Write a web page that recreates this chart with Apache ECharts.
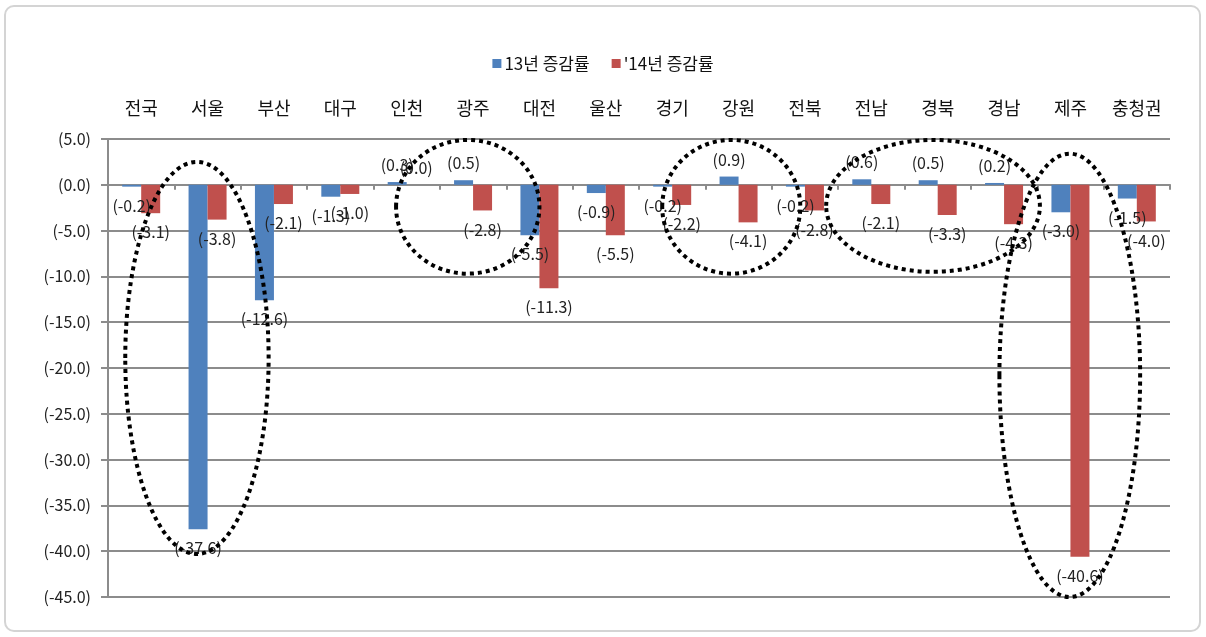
<!DOCTYPE html>
<html>
<head>
<meta charset="utf-8">
<script src="https://cdn.jsdelivr.net/npm/echarts@6/dist/echarts.min.js"></script>
<style>
html,body{margin:0;padding:0;background:#fff;}
#frame{position:absolute;left:4px;top:5px;width:1197px;height:627px;border:2px solid #d4d4d4;border-radius:10px;box-sizing:border-box;}
#chart{position:absolute;left:0;top:0;width:1206px;height:637px;}
</style>
</head>
<body>
<div id="frame"></div>
<div id="chart"></div>
<script>
const categories = ['전국','서울','부산','대구','인천','광주','대전','울산','경기','강원','전북','전남','경북','경남','제주','충청권'];
const seriesNames = ['13년 증감률', "'14년 증감률"];
const values13 = [-0.2, -37.6, -12.6, -1.3, 0.3, 0.5, -5.5, -0.9, -0.2, 0.9, -0.2, 0.6, 0.5, 0.2, -3.0, -1.5];
const values14 = [-3.1, -3.8, -2.1, -1.0, 0.0, -2.8, -11.3, -5.5, -2.2, -4.1, -2.8, -2.1, -3.3, -4.3, -40.6, -4.0];
const yMin = -45, yMax = 5, yInterval = 5;
// annotation ellipses: [center category index, center value, x radius (categories), y radius (value units)]
const ellipses = [
  [0.84, -18.9, 1.08, 21.4],
  [4.92, -2.4, 1.08, 7.3],
  [8.89, -2.4, 1.04, 7.3],
  [11.93, -2.3, 1.61, 7.2],
  [13.99, -20.8, 1.06, 24.2]
];

const FONT = '"Noto Sans CJK KR", "Noto Sans", sans-serif';
const fmt = v => '(' + (Math.abs(v) < 0.05 ? 0 : v).toFixed(1) + ')';

function items(arr) {
  return arr.map(v => ({
    value: v,
    label: { position: v >= 0 ? 'top' : 'bottom', distance: v >= 0 ? 9 : 11 }
  }));
}

const chart = echarts.init(document.getElementById('chart'), null, {renderer: 'canvas'});
const labelStyle = {
  show: true, formatter: p => fmt(p.value), color: '#222', fontSize: 16, fontFamily: FONT
};
chart.setOption({
  animation: false,
  legend: {
    top: 50, left: 'center', itemWidth: 9, itemHeight: 9, itemGap: 22,
    icon: 'rect',
    textStyle: { fontSize: 17, color: '#111', fontFamily: FONT, padding: [0,0,0,-2] },
    data: seriesNames
  },
  grid: { left: 108, right: 36, top: 139, bottom: 40 },
  xAxis: [
    {
      type: 'category', data: categories, position: 'bottom',
      axisLine: { onZero: true, lineStyle: { color: '#8c8c8c', width: 2 } },
      axisTick: { show: true, length: 5, lineStyle: { color: '#8c8c8c', width: 2 } },
      axisLabel: { show: false }
    },
    {
      type: 'category', data: categories, position: 'top',
      axisLine: { show: false }, axisTick: { show: false },
      axisLabel: { show: true, margin: 22, fontSize: 18, color: '#111', fontFamily: FONT }
    }
  ],
  yAxis: {
    type: 'value', min: yMin, max: yMax, interval: yInterval,
    axisLine: { show: true, lineStyle: { color: '#8c8c8c', width: 2 } },
    axisTick: { show: true, length: 7, lineStyle: { color: '#8c8c8c', width: 2 } },
    axisLabel: { formatter: v => fmt(v), fontSize: 16, color: '#222', fontFamily: FONT, margin: 17 },
    splitLine: { show: true, lineStyle: { color: '#8c8c8c', width: 2 } }
  },
  series: [
    {
      name: seriesNames[0], type: 'bar', xAxisIndex: 0, data: items(values13),
      barWidth: 19, barGap: '0%',
      itemStyle: { color: '#4F81BD' }, label: labelStyle
    },
    {
      name: seriesNames[1], type: 'bar', xAxisIndex: 0, data: items(values14),
      barWidth: 19, barGap: '0%',
      itemStyle: { color: '#C0504D' }, label: labelStyle
    }
  ]
});

// dotted annotation ellipses, positioned through the chart's own scales
const x0 = chart.convertToPixel({xAxisIndex: 0}, 0);
const x1 = chart.convertToPixel({xAxisIndex: 0}, 1);
const catW = x1 - x0;
const yPx = v => chart.convertToPixel({yAxisIndex: 0}, v);
const unitH = yPx(0) - yPx(1);
chart.setOption({
  graphic: ellipses.map(e => ({
    type: 'ellipse', silent: true, z: 100,
    shape: { cx: x0 + e[0] * catW, cy: yPx(e[1]), rx: e[2] * catW, ry: e[3] * unitH },
    style: { fill: null, stroke: '#000', lineWidth: 4, lineDash: [4, 4] }
  }))
});
</script>
</body>
</html>
